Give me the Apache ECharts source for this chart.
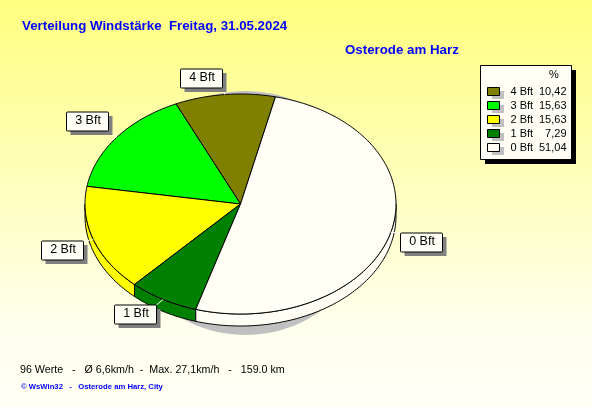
<!DOCTYPE html>
<html><head><meta charset="utf-8">
<style>html,body{margin:0;padding:0;background:#fff}#c{width:592px;height:407px}</style>
<script src="https://cdn.jsdelivr.net/npm/echarts@6/dist/echarts.min.js"></script>
</head><body><div id="c"></div>
<script>
const categories = ['4 Bft','3 Bft','2 Bft','1 Bft','0 Bft'];
const percents = [10.42,15.63,15.63,7.29,51.04];
const percentLabels = ['10,42','15,63','15,63','7,29','51,04'];
const colors = ['#808000','#00ff00','#ffff00','#008000','#fffff6'];
const titleText = 'Verteilung Windstärke  Freitag, 31.05.2024';
const stationText = 'Osterode am Harz';
const statsText = '96 Werte   -   Ø 6,6km/h  -  Max. 27,1km/h   -   159.0 km';
const footerText = '© WsWin32   -   Osterode am Harz, City';

// layout
const P = {cx:240.5, cy:204, rx:155.5, ry:110, depth:12, start:13};
const labelOffset = [[-24,-17],[-30,-16],[-31,10],[-28,15],[30.5,10]];
const L = {x:480, y:65, w:91, h:94, shadow:5, swatchX:487, swatchY:87, swatchW:12, swatchH:8, pitch:14};
const total = percents.reduce((a,b)=>a+b,0);
const order = [4,3,2,1,0]; // drawn clockwise from the start angle
function range(i){
  let a = P.start;
  for(const k of order){
    const s = percents[k]/total*360;
    if(k===i) return [a,a+s];
    a += s;
  }
}
function pt(deg,dy){
  const r = deg*Math.PI/180;
  return [P.cx+P.rx*Math.sin(r), P.cy-P.ry*Math.cos(r)+(dy||0)];
}
function arc(a,b,dy){
  const out=[], n=Math.max(2,Math.ceil(Math.abs(b-a)));
  for(let j=0;j<=n;j++) out.push(pt(a+(b-a)*j/n,dy));
  return out;
}
const stroke = {stroke:'#000',lineWidth:1};
function face(i){
  return function(params,api){
    const [a,b] = range(i);
    return {type:'polygon',shape:{points:[[P.cx,P.cy]].concat(arc(a,b))},
      style:Object.assign({fill:colors[i]},stroke)};
  };
}
function rim(params,api){
  const i = params.dataIndex;
  const [a0,b0] = range(i);
  const a = Math.max(a0,90), b = Math.min(b0,270);
  if(b<=a) return {type:'group',children:[]};
  return {type:'polygon',shape:{points:arc(a,b).concat(arc(b,a,P.depth))},
    style:Object.assign({fill:colors[i]},stroke)};
}
function shadow(){
  return {type:'ellipse',shape:{cx:P.cx+5,cy:P.cy+9,rx:126,ry:122},style:{fill:'#c0c0c0'}};
}
function label(params,api){
  const i = params.dataIndex;
  const [a,b] = range(i);
  const e = pt((a+b)/2);
  const cx = Math.round(e[0]+labelOffset[i][0]), cy = Math.round(e[1]+labelOffset[i][1]);
  const w=42,h=19,x=cx-w/2+.5,y=cy-h/2+.5;
  const lx = Math.max(x,Math.min(x+w,e[0])), ly = Math.max(y,Math.min(y+h,e[1]));
  return {type:'group',children:[
    {type:'line',shape:{x1:lx,y1:ly,x2:e[0],y2:e[1]},style:{stroke:'#fff',lineWidth:1}},
    {type:'rect',shape:{x:x+4,y:y+4,width:w,height:h},style:{fill:'#808080'}},
    {type:'rect',shape:{x,y,width:w,height:h,r:1},style:{fill:'#fffff6',stroke:'#000',lineWidth:1}},
    {type:'text',x:cx+1,y:cy,style:{text:categories[i],fill:'#000',align:'center',verticalAlign:'middle',
      font:'12.5px "Liberation Sans"'}}
  ]};
}
const none = {coordinateSystem:'none',silent:true,animation:false};
const series = [
  Object.assign({type:'custom',name:'shadow',data:[[1]],renderItem:shadow},none),
  Object.assign({type:'custom',name:'rim',data:percents.map(v=>[v]),renderItem:rim},none)
];
categories.forEach((c,i)=>series.push(Object.assign({type:'custom',name:c,data:[[percents[i]]],
  itemStyle:{color:colors[i]},renderItem:face(i)},none)));
series.push(Object.assign({type:'custom',name:'labels',data:percents.map(v=>[v]),renderItem:label},none));

const legendBack = [
  {type:'rect',silent:true,z:1,shape:{x:L.x+L.shadow,y:L.y+L.shadow,width:L.w,height:L.h},style:{fill:'#000'}},
  {type:'rect',silent:true,z:1,shape:{x:L.x+.5,y:L.y+.5,width:L.w,height:L.h},style:{fill:'#fffff6',stroke:'#000',lineWidth:1}}
].concat(categories.map((c,i)=>({type:'rect',silent:true,z:1,
  shape:{x:L.swatchX+5,y:L.swatchY+4+i*L.pitch,width:L.swatchW,height:L.swatchH},style:{fill:'#c0c0c0'}})));

const chart = echarts.init(document.getElementById('c'),null,{renderer:'canvas'});
const blue = '#0000ff';
const F = 'Liberation Sans';
chart.setOption({
  animation:false,
  backgroundColor:{type:'linear',x:0,y:0,x2:0,y2:1,colorStops:[{offset:0,color:'#ffff80'},{offset:.82,color:'#fffff0'},{offset:1,color:'#fffff4'}]},
  title:[
    {text:titleText,left:22,top:19,padding:0,textStyle:{color:blue,fontFamily:F,fontSize:13.3,fontWeight:'bold',lineHeight:14}},
    {text:stationText,left:345,top:43,padding:0,textStyle:{color:blue,fontFamily:F,fontSize:13.3,fontWeight:'bold',lineHeight:14}},
    {text:statsText,left:20,top:363,padding:0,textStyle:{color:'#000',fontFamily:F,fontSize:10.7,fontWeight:'normal',lineHeight:14}},
    {text:footerText,left:21,top:382,padding:0,textStyle:{color:blue,fontFamily:F,fontSize:7.7,fontWeight:'bold',lineHeight:10}},
    {text:'%',left:549,top:69,padding:0,z:10,textStyle:{color:'#000',fontFamily:F,fontSize:11,fontWeight:'normal',lineHeight:12}}
  ],
  graphic:legendBack,
  legend:{
    orient:'vertical',left:L.x,top:L.y,data:categories,selectedMode:false,z:5,
    padding:[21,5,8,7],itemWidth:L.swatchW,itemHeight:L.swatchH,itemGap:3,icon:'rect',
    itemStyle:{borderColor:'#000',borderWidth:1},
    formatter:n=>`{s|\u00a0}{n|${n}}{v|${percentLabels[categories.indexOf(n)]}}`,
    textStyle:{rich:{
      s:{width:6,height:8,lineHeight:8,fontFamily:F,fontSize:11},
      n:{width:26,height:8,lineHeight:8,align:'left',fontFamily:F,fontSize:11,color:'#000'},
      v:{width:30,height:8,lineHeight:8,align:'right',fontFamily:F,fontSize:11,color:'#000'}
    }}
  },
  series
});
</script></body></html>
